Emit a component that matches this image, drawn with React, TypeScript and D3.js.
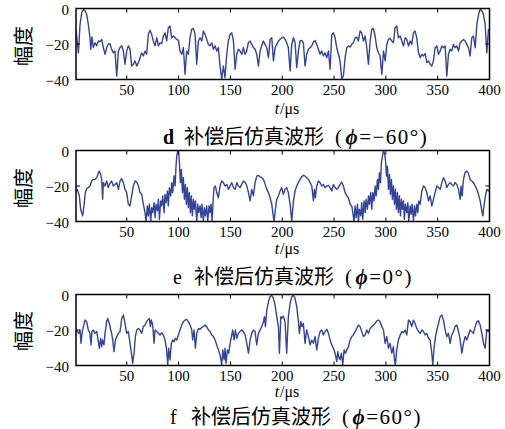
import React from "react";
import * as d3 from "d3";

type Pt = [number, number];

const xTicks = [50, 100, 150, 200, 250, 300, 350, 400];
const yTicks = [0, -20, -40];
const xDomain: [number, number] = [1, 400];
const yDomain: [number, number] = [-40, 0];
const titleKeys = ["d", "e", "f"];
const titleMain = "补偿后仿真波形";
const titlePhi = ["=−60°)", "=0°)", "=60°)"];

const waveD: Pt[] = [
  [1,-12],[3.3,-25],[4.9,-9],[6.5,-2.4],[8.1,-0.6],[9.7,-1.1],[11.3,-3.4],[12.9,-9],[14.5,-16.5],[15.2,-23],[16.4,-16],[17.7,-22],[19.3,-19.3],[21,-21],[22.6,-18.3],[24.2,-18.7],[25.8,-17.4],[27.4,-22],[29,-25.8],[30.6,-22],[32.2,-20],[33.8,-19.8],[35.4,-23],[37,-25],[38.6,-24],[40.3,-38],[41.9,-24],[43.5,-22],[45.1,-21],[46.7,-24],[48.3,-31.4],[49.9,-24],[51.5,-21],[53.1,-23],[54.7,-32.4],[56.3,-31.4],[58,-29.5],[59.6,-32.4],[61.2,-30.5],[62.8,-27.7],[64.4,-25],[66,-26.7],[67.6,-24],[69.2,-25.8],[70.8,-14.6],[72.4,-12.3],[74,-14.6],[75.6,-18.3],[77.3,-21],[78.9,-16.5],[80.5,-21],[82.1,-19.3],[83.7,-19.8],[85.3,-15.5],[86.9,-13.7],[88.5,-18.3],[90.1,-10.8],[91.7,-9.9],[93.3,-16.5],[94.9,-15.5],[96.6,-16.5],[98.2,-17.4],[99.8,-18],[101.4,-24],[103,-25.8],[104.6,-22],[106.2,-37],[107.8,-24],[109.4,-25.8],[111,-16.5],[112.6,-11.8],[114.3,-11.2],[115.9,-14.6],[117.5,-31.4],[119.1,-18.3],[120.7,-16.5],[122.3,-18.3],[123.9,-12.7],[125.5,-14.6],[127.1,-17.4],[128.7,-20.2],[130.3,-21],[132,-19.3],[133.6,-23],[135.2,-21],[136.8,-24],[138.4,-22],[140,-32.4],[141.6,-39.8],[143.2,-32.4],[144.8,-38.9],[146.4,-25.8],[148,-18.3],[149.6,-14.6],[151.3,-13.7],[152.9,-18.3],[154.5,-34.2],[156.1,-25.8],[157.7,-23],[159.3,-24],[160.9,-25.8],[162.5,-22],[164.1,-25.8],[165.7,-24],[167.3,-19.3],[169,-18.3],[170.6,-20.2],[172.2,-22],[173.8,-23],[175.4,-25.8],[177,-32.4],[178.6,-24],[180.2,-21],[181.8,-18.3],[183.4,-20.2],[185,-22],[186.7,-27.7],[188.3,-17.4],[189.9,-16.5],[191.5,-29.5],[193.1,-22],[194.7,-20.2],[196.3,-18.3],[197.9,-17.4],
  [199.5,-16.5],[201.1,-16.1],[202.7,-17.4],[204.3,-19.3],[205.9,-22.1],[207.6,-35.2],[209.2,-20.2],[210.8,-16.5],[212.4,-19.3],[214,-33.3],[215.6,-23.9],[217.2,-18.3],[218.8,-18],[220.4,-19.3],[222,-32.4],[223.6,-25.8],[225.3,-23],[226.9,-22.1],[228.5,-21.1],[230.1,-18.7],[231.7,-18],[233.3,-20.2],[234.9,-23],[236.5,-25.8],[238.1,-23.9],[239.7,-26.7],[241.3,-24.9],[243,-27.7],[244.6,-23.9],[246.2,-34.2],[247.8,-14.6],[249.4,-13.7],[251,-16.5],[252.6,-22.1],[254.2,-25.8],[255.8,-29.5],[257.4,-39.8],[259,-38],[260.7,-27.7],[262.3,-22.1],[263.9,-21.1],[265.5,-21.7],[267.1,-20.2],[268.7,-19.3],[270.3,-16.5],[271.9,-16.1],[273.5,-18.3],[275.1,-12.7],[276.7,-13.7],[278.4,-18.3],[280,-15.5],[281.6,-22.1],[283.2,-31.4],[284.8,-18.3],[286.4,-11.8],[288,-11.2],[289.6,-15.5],[291.2,-22.1],[292.8,-24.9],[294.4,-26.7],[296.1,-37],[297.7,-23.9],[299.3,-29.5],[300.9,-20.2],[302.5,-17.4],[304.1,-16.8],[305.7,-18.3],[307.3,-19.3],[308.9,-10.8],[310.5,-9.9],[312.1,-16.5],[313.8,-15.5],[315.4,-18.3],[317,-21.1],[318.6,-16.5],[320.2,-17.4],[321.8,-21.1],[323.4,-18.3],[325,-20.2],[326.6,-13.7],[328.2,-12.7],[329.8,-16.5],[331.5,-24.9],[333.1,-27.7],[334.7,-25.8],[336.3,-26.7],[337.9,-25.4],[339.5,-30.5],[341.1,-29.5],[342.7,-31.4],[344.3,-32.4],[345.9,-29.5],[347.5,-22.1],[349.2,-21.1],[350.8,-25.8],[352.4,-23.9],[354,-21.1],[355.6,-22.1],[357.2,-21.1],[358.8,-38],[360.4,-25.8],[362,-23],[363.6,-23.9],[365.2,-20.2],[366.8,-22.1],[368.5,-21.1],[370.1,-23.9],[371.7,-19.3],[373.3,-18.3],[374.9,-17.4],[376.5,-18.3],[378.1,-20.2],[379.7,-22.1],[381.3,-26.7],[382.9,-16.5],[384.5,-15.5],[386.2,-22.1],[387.8,-9],[389.4,-3.4],[391,-0.6],[392.6,-1.1],[394.2,-3.4],[395.8,-9],[397.4,-24.9],[399,-11.8],[400,-12.7],
];

const waveE: Pt[] = [
  [1,-22.8],[2.3,-21.9],[4.2,-25.6],[5.5,-33.1],[7.4,-36.8],[8.7,-31.2],[10,-23.7],[11.3,-21.5],[12.9,-20.9],[14.5,-20],[16.1,-17.2],[17.7,-16.3],[19.3,-16.3],[21,-15.3],[22.6,-12.5],[23.5,-11.6],[24.8,-13.5],[25.8,-16.3],[26.7,-27.5],[27.4,-18.1],[29,-20],[30.6,-17.2],[32.2,-20.9],[33.8,-18.5],[35.4,-17.2],[37,-20],[38.7,-19.1],[40.3,-18.1],[41.9,-21.9],[43.5,-17.2],[45.1,-15.9],[46.7,-18.1],[48.3,-21.9],[49.9,-23.7],[51.5,-30.3],[53.1,-31.2],[54.7,-25.6],[56.3,-20],[58,-17.2],[59.6,-17.8],[61.2,-20],[62.8,-23.7],[64.4,-24.7],[66,-30.3],[67.6,-35],[68.6,-40],[69.9,-31.2],[70.8,-36.8],[71.8,-30.3],[73.1,-40],[74,-32.2],[75,-35],[76.3,-29.4],[77.3,-37.8],[78.2,-30.3],[79.5,-34],[80.5,-27.5],[81.5,-38.7],[82.7,-28.4],[83.7,-31.2],[84.7,-25.6],[86,-35],[86.9,-24.7],[87.9,-29.4],[89.2,-22.8],[90.1,-31.2],[91.1,-20.9],[92.4,-25.6],[93.4,-18.1],[94.3,-23.7],[95.6,-14.4],[96.6,-20],[97.5,-8.8],[98.2,-3.2],[99.1,-0.4],[100.1,-1.3],[100.8,-6.9],[101.7,-18.1],[102.7,-10.7],[103.7,-23.7],[104.6,-15.3],[105.6,-27.5],[106.6,-19.1],[107.5,-30.3],[108.5,-20.9],[109.4,-32.2],[110.4,-23.7],[111.4,-35],[112.3,-25.6],[113.3,-36.8],[114.3,-27.5],[115.2,-33.1],[116.2,-28.4],[117.5,-40],[118.5,-30.3],[119.4,-35],[120.7,-31.2],[121.7,-37.8],[122.6,-30.3],[123.9,-40],[124.9,-32.2],[125.9,-36.8],[127.1,-31.2],[128.1,-39.6],[129.4,-31.2],[130.4,-35],[131.3,-30.3],[132.3,-39.6],[133.6,-25.6],[134.2,-20.9],[135.5,-20],[136.8,-23.7],[138.4,-26.6],[140,-20],[141.6,-17.2],[143.2,-18.1],[144.8,-20],[146.5,-19.1],[148.1,-21.9],[149.7,-20],[151.3,-18.1],[152.9,-20.9],[154.5,-21.9],[156.1,-18.1],[157.7,-20],[159.3,-20.9],[160.9,-19.1],[162.5,-17.2],[164.2,-17.8],[165.8,-20],[167.4,-23.7],[169,-28.4],[170.6,-21.9],[172.2,-25.6],[173.8,-18.1],[175.4,-14.4],[177,-14],[178.6,-14.8],[180.2,-15.3],[181.9,-16.3],[183.5,-19.1],[185.1,-21.9],[186.7,-23.7],[188.3,-26.6],[189.9,-30.3],[190.9,-35],[192.1,-40],[193.4,-33.1],[194.7,-27.5],[196.3,-25.6],[197.9,-22.8],
  [199.5,-20.9],[201.1,-24.7],[202.7,-21.9],[204.3,-20.9],[205.9,-23.7],[207.6,-30.3],[209.2,-40],[210.8,-28.4],[212.4,-22.8],[214,-20],[215.6,-18.1],[217.2,-16.3],[218.8,-14.8],[220.4,-14],[222,-14.4],[223.6,-15.3],[225.3,-16.3],[226.9,-18.1],[228.5,-20],[230.1,-28.4],[231,-21.9],[232,-26.6],[233.3,-20],[234.9,-17.2],[236.5,-18.1],[238.1,-20],[239.7,-19.1],[241.3,-20.9],[243,-20],[244.6,-19.6],[246.2,-20.9],[247.8,-22.8],[249.4,-19.1],[251,-20.9],[252.6,-21.9],[254.2,-20.9],[255.8,-19.1],[257.4,-17.8],[259,-20],[260.7,-23.7],[262.3,-25.6],[263.9,-26.6],[265.5,-30.3],[267.1,-31.2],[268.1,-35],[269.3,-40],[270.3,-31.2],[271.3,-37.8],[272.6,-30.3],[273.5,-40],[274.5,-33.1],[275.8,-36.8],[276.7,-29.4],[277.7,-38.7],[279,-28.4],[280,-35],[280.9,-27.5],[282.2,-33.1],[283.2,-25.6],[284.1,-30.3],[285.4,-23.7],[286.4,-33.1],[287.4,-23.7],[288.6,-28.4],[289.6,-20],[290.6,-25.6],[291.9,-16.3],[292.8,-21.9],[293.8,-12.5],[294.8,-18.1],[295.7,-6.9],[296.7,-3.2],[297.7,-0.4],[298.6,-1.3],[299.6,-5],[300.6,-14.4],[301.5,-8.8],[302.5,-21.9],[303.5,-13.5],[304.4,-24.7],[305.4,-16.3],[306.3,-27.5],[307.3,-20],[308.3,-30.3],[309.2,-21.9],[310.2,-33.1],[311.2,-23.7],[312.1,-35],[313.1,-25.6],[314.1,-36.8],[315,-27.5],[316,-33.1],[317,-28.4],[317.9,-38.7],[318.9,-30.3],[320.2,-35],[321.2,-29.4],[322.1,-40],[323.4,-31.2],[324.4,-35.9],[325.3,-30.3],[326.6,-39.6],[327.6,-31.2],[328.6,-36.8],[329.8,-30.3],[330.8,-35],[331.8,-28.4],[333.1,-30.3],[334.7,-22.8],[336.3,-20],[337.9,-20.9],[339.5,-23.7],[341.1,-28.4],[342.7,-25.6],[344.3,-31.2],[345.9,-27.5],[347.5,-23.7],[349.2,-20],[350.8,-20.9],[352.4,-21.9],[354,-18.1],[355.6,-15.3],[357.2,-17.2],[358.8,-20.9],[360.4,-19.1],[362,-18.1],[363.6,-19.1],[365.2,-20],[366.8,-18.1],[368.5,-19.1],[370.1,-21.9],[371.7,-27.5],[372.6,-20],[373.6,-25.6],[374.9,-16.3],[376.5,-12.2],[378.1,-11.6],[379.7,-12.9],[381.3,-16.3],[382.9,-17.2],[384.5,-18.1],[386.2,-20],[387.8,-21.9],[389.4,-24.7],[391,-28.4],[392.6,-34],[393.6,-36.8],[394.8,-30.3],[396.1,-25.6],[397.4,-21.9],[399,-22.8],[400,-21.9],
];

const waveF: Pt[] = [
  [1,-20],[2.3,-20.9],[3.6,-21.9],[4.9,-20],[5.8,-27.5],[6.8,-21.9],[8.1,-18.1],[9.7,-14.4],[11.3,-15.3],[12.9,-20],[14.5,-21.9],[15.5,-28.4],[16.4,-20.9],[17.7,-20],[19.3,-21.9],[21,-20.9],[22.6,-26.6],[23.5,-30.3],[24.8,-24.7],[25.8,-29.4],[26.7,-25.6],[28,-28.4],[29,-21.9],[30.6,-15.3],[31.6,-13.5],[33.2,-16.3],[34.5,-20],[35.4,-21.9],[36.4,-25.6],[37.7,-32.2],[39,-25.6],[40.3,-23.7],[41.9,-21.9],[43.5,-20.9],[45.1,-13.5],[46.7,-11.6],[48.3,-16.3],[49.9,-21.9],[51.5,-20.9],[53.1,-27.5],[54.7,-34],[55.7,-38.7],[57,-33.1],[58.3,-23.7],[59.6,-20],[61.2,-19.1],[62.8,-20],[64.4,-21.9],[66,-18.1],[67.6,-17.2],[69.2,-15.3],[70.8,-14],[71.8,-13.5],[72.8,-18.1],[73.7,-14.4],[75,-17.2],[76.3,-27.5],[77.3,-20],[78.9,-20.9],[80.5,-21.9],[82.1,-22.8],[83.7,-21.5],[85.3,-22.8],[86.9,-25.6],[88.5,-31.2],[89.5,-39.6],[90.5,-30.3],[91.7,-36.8],[93,-27.5],[94.3,-25.6],[95.6,-26.6],[96.9,-24.7],[98.2,-25.6],[99.8,-22.8],[101.4,-20],[103,-17.2],[104.6,-15.3],[106.2,-14.4],[107.8,-14],[109.4,-15.3],[111.1,-17.2],[112.7,-20],[113.6,-25.6],[114.9,-20],[116.2,-30.3],[117.5,-21.9],[119.1,-19.1],[120.7,-19.6],[122.3,-18.5],[123.9,-18.1],[125.5,-17.2],[127.1,-18.1],[128.8,-20],[130.4,-20.9],[132,-22.8],[133.6,-23.7],[135.2,-25.6],[136.8,-28.4],[138.4,-31.2],[140,-34],[141.6,-39.6],[142.6,-31.2],[143.9,-36.8],[144.8,-30.3],[145.8,-38.7],[147.1,-31.2],[148.4,-33.1],[149.7,-27.5],[151,-23.7],[152.2,-20],[153.5,-25.6],[154.8,-20],[156.1,-24.7],[157.7,-21.9],[159.3,-20.9],[160.9,-20],[162.5,-20.9],[164.2,-22.8],[165.8,-27.5],[167.4,-33.1],[169,-25.6],[170.6,-21.9],[172.2,-20],[173.8,-20.9],[175.4,-28.4],[177,-21.9],[178.6,-20],[180.2,-18.1],[181.9,-15.3],[182.8,-12.5],[183.8,-18.1],[185.1,-8.8],[186.7,-4.1],[188.3,-1.3],[189.9,-0.4],[191.5,-2.2],[193.1,-6],[194.7,-12.5],[196.3,-18.1],[197.3,-33.1],[198.6,-12.5],
  [199.5,-13.5],[201.1,-12.2],[202.7,-15.3],[204.3,-33.1],[205.9,-12.5],[207.6,-5],[209.2,-1.3],[210.8,-0.4],[212.4,-2.2],[214,-6.9],[215.6,-15.3],[216.6,-21.9],[217.9,-15.3],[219.1,-18.1],[220.4,-16.3],[222,-27.5],[223.6,-20],[225.3,-23.7],[226.9,-28.4],[228.5,-25.6],[230.1,-27.5],[231.7,-23.7],[233.3,-31.2],[234.9,-24.7],[236.5,-20.9],[238.1,-20],[239.7,-22.8],[241.3,-20.9],[243,-19.6],[244.6,-21.9],[246.2,-25.6],[247.8,-28.4],[249.4,-30.3],[251,-33.1],[252.6,-37.8],[253.6,-32.2],[254.5,-35],[255.8,-36.8],[257.1,-33.1],[258.4,-39.6],[259.7,-31.2],[261,-33.1],[262.3,-31.2],[263.9,-29.4],[265.5,-25.6],[267.1,-23.7],[268.7,-22.8],[270.3,-20.9],[271.9,-19.1],[273.5,-17.2],[275.1,-18.1],[276.7,-20.9],[278.4,-23.7],[280,-22.8],[281.6,-20],[283.2,-21.9],[284.8,-19.1],[286.4,-18.1],[288,-17.2],[289.6,-16.3],[291.2,-14.8],[292.8,-14.4],[294.4,-15.3],[296.1,-18.1],[297.7,-20],[299.3,-27.5],[300.9,-23.7],[302.5,-30.3],[304.1,-27.5],[305.7,-33.1],[307.3,-29.4],[308.3,-36.8],[309.2,-39.6],[310.5,-31.2],[312.1,-25.6],[313.8,-22.8],[315.4,-20.9],[317,-21.5],[318.6,-20],[320.2,-22.8],[321.8,-14.4],[323.4,-15.3],[325,-18.1],[326.6,-14.4],[328.2,-16.3],[329.8,-19.1],[331.5,-20.9],[333.1,-21.9],[334.7,-20],[336.3,-20.9],[337.9,-22.8],[339.5,-21.9],[341.1,-24.7],[342.7,-25.6],[344.3,-33.1],[345.3,-39.6],[346.6,-29.4],[347.9,-23.7],[349.2,-20],[350.8,-16.3],[352.4,-12.5],[354,-11.6],[355.6,-14.4],[357.2,-20],[358.8,-23.7],[360.4,-21.9],[362,-27.5],[363.6,-22.8],[365.2,-20.9],[366.8,-18.1],[368.5,-17.2],[370.1,-20.9],[371.7,-25.6],[373.3,-33.1],[374.9,-27.5],[376.5,-23.7],[378.1,-25.6],[379.7,-22.8],[381.3,-20],[382.9,-20.9],[384.5,-21.9],[386.2,-18.1],[387.8,-15.3],[389.4,-14.8],[391,-17.2],[392.6,-21.9],[394.2,-27.5],[395.8,-30.3],[397.4,-20],[399,-20.9],[400,-20],
];

const waveData = [waveD, waveE, waveF];
const panelTops = [8.5, 150.5, 294.5];
const titleStart = [163, 173, 170];
const titleBase = [143.5, 283.5, 423.5];
const unitBase = [114, 253.5, 396.5];
const yLabelMid = [46, 188, 331];

const LEFT = 76;
const RIGHT = 489.5;
const H = 71;
const LINE = "#33449a";
const SERIF = "'Liberation Serif', 'Times New Roman', serif";
const CJK = "'Noto Sans CJK SC', sans-serif";

export default function App() {
  const x = d3.scaleLinear().domain(xDomain).range([LEFT, RIGHT]);
  return (
    <svg width={505} height={429} style={{ position: "absolute", left: 0, top: 0, background: "#fff" }}>
      {waveData.map((data, i) => {
        const top = panelTops[i];
        const key = titleKeys[i];
        const y = d3.scaleLinear().domain(yDomain).range([top + H, top]);
        const line = d3.line<Pt>().x((d) => x(d[0])).y((d) => y(d[1]));
        const bottom = top + H;
        const X = titleStart[i];
        return (
          <g key={key}>
            <defs>
              <clipPath id={`clip-${key}`}>
                <rect x={LEFT} y={top} width={RIGHT - LEFT} height={H} />
              </clipPath>
            </defs>
            <path d={line(data) || ""} fill="none" stroke={LINE} strokeWidth={1.4} strokeLinejoin="round" clipPath={`url(#clip-${key})`} />
            <rect x={LEFT} y={top} width={RIGHT - LEFT} height={H} fill="none" stroke="#000" strokeWidth={1.5} />
            {xTicks.map((t) => (
              <g key={t}>
                <line x1={x(t)} x2={x(t)} y1={bottom} y2={bottom - 4} stroke="#000" strokeWidth={1} />
                <line x1={x(t)} x2={x(t)} y1={top} y2={top + 4} stroke="#000" strokeWidth={1} />
                <text x={x(t)} y={bottom + 15} textAnchor="middle" fontFamily={SERIF} fontSize={15}>{t}</text>
              </g>
            ))}
            {yTicks.map((t) => (
              <g key={t}>
                <line x1={LEFT} x2={LEFT + 4} y1={y(t)} y2={y(t)} stroke="#000" strokeWidth={1} />
                <line x1={RIGHT} x2={RIGHT - 4} y1={y(t)} y2={y(t)} stroke="#000" strokeWidth={1} />
                <text x={69} y={y(t) + 3} textAnchor="end" dominantBaseline="middle" fontFamily={SERIF} fontSize={15}>
                  {t === 0 ? "0" : `−${Math.abs(t)}`}
                </text>
              </g>
            ))}
            <text transform={`translate(31,${yLabelMid[i]}) rotate(-90)`} textAnchor="middle" fontFamily={CJK} fontSize={20}>幅度</text>
            <text x={287} y={unitBase[i]} textAnchor="middle" fontFamily={SERIF} fontSize={16}>
              <tspan fontStyle="italic">t</tspan><tspan dx={1}>/μs</tspan>
            </text>
            <text x={X} y={titleBase[i]} fontSize={20} fontFamily={SERIF} fontWeight={key === "d" ? "bold" : "normal"}>{key}</text>
            <text x={X + 21} y={titleBase[i]} fontSize={20} fontFamily={CJK}>{titleMain}</text>
            <text x={X + 172} y={titleBase[i]} fontSize={21} fontFamily={SERIF} letterSpacing={1.5}>
              <tspan>(</tspan>
              <tspan fontStyle="italic" fontWeight="bold" dx={2}>ϕ</tspan>
              <tspan>{titlePhi[i]}</tspan>
            </text>
          </g>
        );
      })}
    </svg>
  );
}
